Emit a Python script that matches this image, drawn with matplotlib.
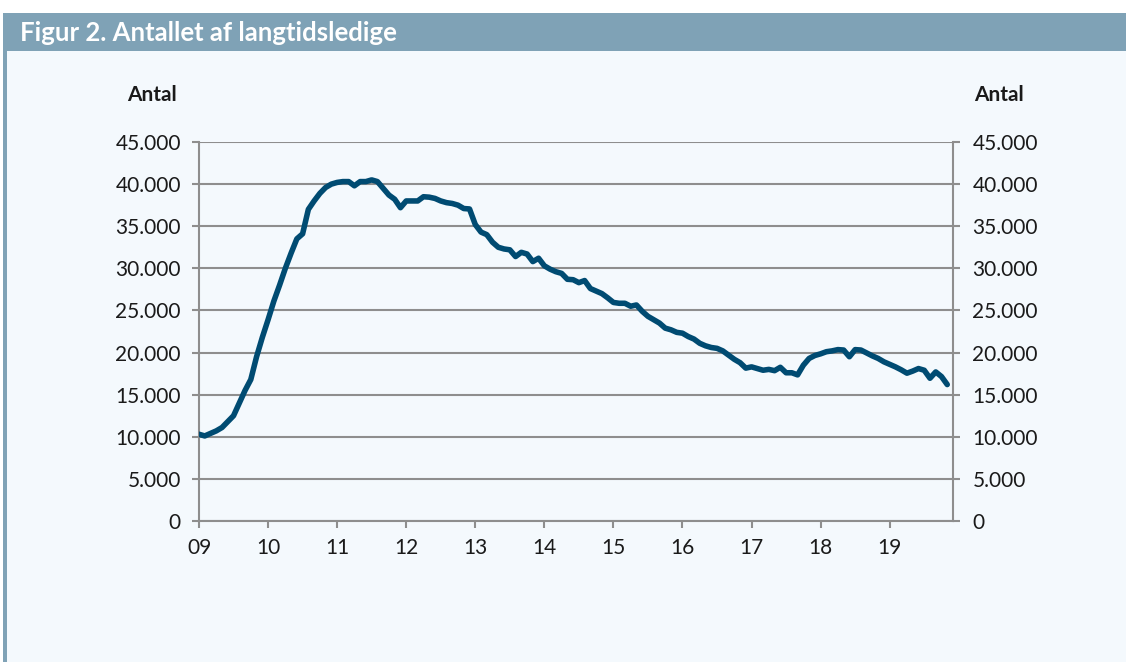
import matplotlib.pyplot as plt
import matplotlib.ticker as mticker
from matplotlib.patches import Rectangle

plt.rcParams['font.family'] = ['Lato', 'DejaVu Sans']

# data: long-term unemployed, monthly Jan 2009 - Nov 2019
antal = [10300, 10100, 10400, 10700, 11100, 11800, 12500, 14000, 15500, 16800,
         19500, 21800, 23900, 26100, 28000, 30000, 31800, 33500, 34100, 37000,
         38000, 38900, 39600, 40000, 40200, 40300, 40300, 39800, 40300, 40300,
         40500, 40300, 39500, 38700, 38200, 37200, 38000, 38000, 38000, 38500,
         38450, 38300, 38000, 37800, 37700, 37500, 37100, 37050, 35200, 34300,
         34000, 33100, 32500, 32300, 32200, 31400, 31900, 31700, 30800, 31200,
         30300, 29900, 29600, 29400, 28700, 28650, 28300, 28550, 27600, 27300,
         27000, 26500, 25950, 25850, 25850, 25500, 25650, 24900, 24300, 23900,
         23500, 22900, 22700, 22400, 22300, 21900, 21600, 21100, 20800, 20600,
         20500, 20200, 19700, 19200, 18800, 18150, 18300, 18100, 17900, 18000,
         17850, 18250, 17600, 17600, 17350, 18500, 19300, 19650, 19850, 20100,
         20200, 20350, 20300, 19500, 20350, 20300, 19950, 19600, 19300, 18900,
         18600, 18300, 17950, 17550, 17800, 18100, 17900, 16950, 17700, 17150,
         16200]
year_labels = ['09', '10', '11', '12', '13', '14', '15', '16', '17', '18', '19']
title = 'Figur 2. Antallet af langtidsledige'

bg = '#f4f9fd'
head = '#7fa2b6'
grid_c = '#8e8e8e'
line_c = '#004b72'
txt_c = '#1a1a1a'

fig = plt.figure(figsize=(11.26, 6.62), dpi=100)
fig.patch.set_facecolor('white')

# panel background, header bar and left border
fig.patches.append(Rectangle((0.003, 0), 0.997, 1 - 13/662, transform=fig.transFigure,
                             facecolor=bg, edgecolor='none', zorder=-3))
fig.patches.append(Rectangle((0.003, 1 - 51/662), 0.997, 38/662, transform=fig.transFigure,
                             facecolor=head, edgecolor='none', zorder=-2))
fig.patches.append(Rectangle((0.003, 0), 4/1126, 1 - 13/662, transform=fig.transFigure,
                             facecolor=head, edgecolor='none', zorder=-2))
fig.text(20/1126, 1 - 33/662, title, color='white', fontsize=18.5, fontweight='bold',
         va='center', ha='left')

ax = fig.add_axes([199/1126, 1 - 521/662, 754/1126, 379/662])
ax.set_facecolor(bg)
x = list(range(len(antal)))
ax.plot(x, antal, color=line_c, linewidth=4, solid_joinstyle='round', solid_capstyle='round',
        zorder=3)

ax.set_xlim(0, 131)
ax.set_ylim(0, 45000)
ax.set_yticks(range(0, 45001, 5000))
fmt = mticker.FuncFormatter(lambda v, p: f'{int(v):,}'.replace(',', '.'))
ax.yaxis.set_major_formatter(fmt)
ax.set_xticks([12 * k for k in range(len(year_labels))])
ax.set_xticklabels(year_labels)

ax.grid(axis='y', color=grid_c, linewidth=1.5)
ax.set_axisbelow(True)
ax.spines['top'].set_visible(False)
for s in ['left', 'right', 'bottom']:
    ax.spines[s].set_color(grid_c)
    ax.spines[s].set_linewidth(1.5)

ax.tick_params(axis='y', length=5, width=1.5, color=grid_c, labelsize=15, pad=8,
               labelcolor=txt_c)
ax.tick_params(axis='x', length=5, width=1.5, color=grid_c, labelsize=15, pad=7,
               labelcolor=txt_c)

ax2 = ax.twinx()
ax2.set_ylim(0, 45000)
ax2.set_yticks(range(0, 45001, 5000))
ax2.yaxis.set_major_formatter(fmt)
ax2.tick_params(axis='y', length=5, width=1.5, color=grid_c, labelsize=15, pad=9,
                labelcolor=txt_c)
for s in ax2.spines.values():
    s.set_visible(False)

fig.text(151.5/1126, 1 - 95/662, 'Antal', fontsize=15, fontweight='bold', ha='center',
         va='center', color=txt_c)
fig.text(999/1126, 1 - 95/662, 'Antal', fontsize=15, fontweight='bold', ha='center',
         va='center', color=txt_c)

fig.savefig('out.png', dpi=100, facecolor=fig.get_facecolor())
